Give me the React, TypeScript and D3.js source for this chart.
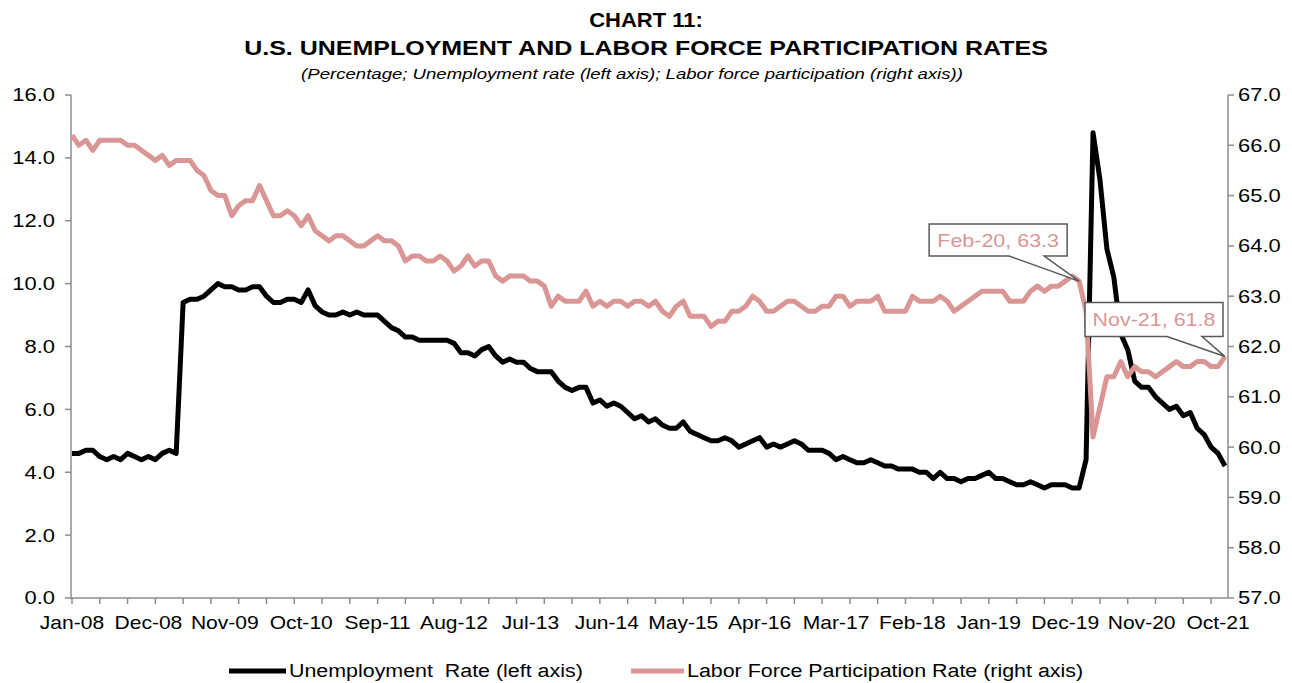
import React, { useEffect } from 'react';
import * as d3 from 'd3';

// Monthly categories Jan-08 .. Nov-21
const startMonth = new Date(2008, 0, 1);
const endMonth = new Date(2021, 10, 1);
const months: Date[] = d3.timeMonth.range(startMonth, d3.timeMonth.offset(endMonth, 1));
const fmtMonth = d3.timeFormat('%b-%y');

// Unemployment rate (left axis), %
const unemploymentRate: number[] = [
  4.6, 4.6, 4.7, 4.7, 4.5, 4.4, 4.5, 4.4, 4.6, 4.5, 4.4, 4.5,
  4.4, 4.6, 4.7, 4.6, 9.4, 9.5, 9.5, 9.6, 9.8, 10.0, 9.9, 9.9,
  9.8, 9.8, 9.9, 9.9, 9.6, 9.4, 9.4, 9.5, 9.5, 9.4, 9.8, 9.3,
  9.1, 9.0, 9.0, 9.1, 9.0, 9.1, 9.0, 9.0, 9.0, 8.8, 8.6, 8.5,
  8.3, 8.3, 8.2, 8.2, 8.2, 8.2, 8.2, 8.1, 7.8, 7.8, 7.7, 7.9,
  8.0, 7.7, 7.5, 7.6, 7.5, 7.5, 7.3, 7.2, 7.2, 7.2, 6.9, 6.7,
  6.6, 6.7, 6.7, 6.2, 6.3, 6.1, 6.2, 6.1, 5.9, 5.7, 5.8, 5.6,
  5.7, 5.5, 5.4, 5.4, 5.6, 5.3, 5.2, 5.1, 5.0, 5.0, 5.1, 5.0,
  4.8, 4.9, 5.0, 5.1, 4.8, 4.9, 4.8, 4.9, 5.0, 4.9, 4.7, 4.7,
  4.7, 4.6, 4.4, 4.5, 4.4, 4.3, 4.3, 4.4, 4.3, 4.2, 4.2, 4.1,
  4.1, 4.1, 4.0, 4.0, 3.8, 4.0, 3.8, 3.8, 3.7, 3.8, 3.8, 3.9,
  4.0, 3.8, 3.8, 3.7, 3.6, 3.6, 3.7, 3.6, 3.5, 3.6, 3.6, 3.6,
  3.5, 3.5, 4.4, 14.8, 13.3, 11.1, 10.2, 8.4, 7.9, 6.9, 6.7, 6.7,
  6.4, 6.2, 6.0, 6.1, 5.8, 5.9, 5.4, 5.2, 4.8, 4.6, 4.2,
];

// Labor force participation rate (right axis), %
const participationRate: number[] = [
  66.2, 66.0, 66.1, 65.9, 66.1, 66.1, 66.1, 66.1, 66.0, 66.0, 65.9, 65.8,
  65.7, 65.8, 65.6, 65.7, 65.7, 65.7, 65.5, 65.4, 65.1, 65.0, 65.0, 64.6,
  64.8, 64.9, 64.9, 65.2, 64.9, 64.6, 64.6, 64.7, 64.6, 64.4, 64.6, 64.3,
  64.2, 64.1, 64.2, 64.2, 64.1, 64.0, 64.0, 64.1, 64.2, 64.1, 64.1, 64.0,
  63.7, 63.8, 63.8, 63.7, 63.7, 63.8, 63.7, 63.5, 63.6, 63.8, 63.6, 63.7,
  63.7, 63.4, 63.3, 63.4, 63.4, 63.4, 63.3, 63.3, 63.2, 62.8, 63.0, 62.9,
  62.9, 62.9, 63.1, 62.8, 62.9, 62.8, 62.9, 62.9, 62.8, 62.9, 62.9, 62.8,
  62.9, 62.7, 62.6, 62.8, 62.9, 62.6, 62.6, 62.6, 62.4, 62.5, 62.5, 62.7,
  62.7, 62.8, 63.0, 62.9, 62.7, 62.7, 62.8, 62.9, 62.9, 62.8, 62.7, 62.7,
  62.8, 62.8, 63.0, 63.0, 62.8, 62.9, 62.9, 62.9, 63.0, 62.7, 62.7, 62.7,
  62.7, 63.0, 62.9, 62.9, 62.9, 63.0, 62.9, 62.7, 62.8, 62.9, 63.0, 63.1,
  63.1, 63.1, 63.1, 62.9, 62.9, 62.9, 63.1, 63.2, 63.1, 63.2, 63.2, 63.3,
  63.4, 63.3, 62.7, 60.2, 60.8, 61.4, 61.4, 61.7, 61.4, 61.6, 61.5, 61.5,
  61.4, 61.5, 61.6, 61.7, 61.6, 61.6, 61.7, 61.7, 61.6, 61.6, 61.8,
];

const xTickLabels = ['Jan-08', 'Dec-08', 'Nov-09', 'Oct-10', 'Sep-11', 'Aug-12', 'Jul-13', 'Jun-14',
  'May-15', 'Apr-16', 'Mar-17', 'Feb-18', 'Jan-19', 'Dec-19', 'Nov-20', 'Oct-21'];
const leftTicks = [0, 2, 4, 6, 8, 10, 12, 14, 16];
const rightTicks = [57, 58, 59, 60, 61, 62, 63, 64, 65, 66, 67];
const callouts = ['Feb-20', 'Nov-21'];

const W = 1292;
const H = 683;
const FONT = '"Liberation Sans", Arial, sans-serif';
const AXIS = '#8c8c8c';
const PINK = '#d99694';

type STProps = {
  x: number; y: number; sx: number; anchor?: 'start' | 'middle' | 'end';
  size: number; bold?: boolean; italic?: boolean; fill?: string; dy?: string; children: React.ReactNode;
};
function ST({ x, y, sx, anchor = 'start', size, bold, italic, fill = '#000', dy, children }: STProps) {
  return (
    <text
      transform={`translate(${x},${y}) scale(${sx},1)`}
      textAnchor={anchor}
      fontSize={size}
      fontWeight={bold ? 'bold' : 'normal'}
      fontStyle={italic ? 'italic' : 'normal'}
      fill={fill}
      dy={dy}
      style={{ whiteSpace: 'pre' }}
    >
      {children}
    </text>
  );
}

export default function App() {
  useEffect(() => {
    document.body.style.margin = '0';
    document.body.style.overflow = 'hidden';
  }, []);

  const plotL = 71;
  const plotR = 1228;
  const plotT = 95;
  const plotB = 598;

  const x = d3.scaleLinear().domain([0, months.length - 1]).range([plotL + 1, 1225]);
  const yL = d3.scaleLinear().domain([0, 16]).range([plotB, plotT]);
  const yR = d3.scaleLinear().domain([57, 67]).range([plotB, plotT]);

  const lineU = d3.line<number>().x((_, i) => x(i)).y((d) => yL(d)).curve(d3.curveLinear);
  const lineP = d3.line<number>().x((_, i) => x(i)).y((d) => yR(d)).curve(d3.curveLinear);

  const labelIdx = xTickLabels.map((l) => months.findIndex((m) => fmtMonth(m) === l));
  const tickIdx = d3.range(0, months.length, 4);

  const calloutShapes = callouts.map((lab) => {
    const i = months.findIndex((m) => fmtMonth(m) === lab);
    const v = participationRate[i];
    return { tx: x(i), ty: yR(v), text: `${lab}, ${v.toFixed(1)}` };
  });
  const boxes = [
    { dxL: -150, dxR: -12, dyT: -57, dyB: -25, p1: -70, p2: -35 },
    { dxL: -140, dxR: -2, dyT: -54, dyB: -20, p1: -58, p2: -23 },
  ];

  return (
    <svg width={W} height={H} style={{ display: 'block', background: '#fff' }} fontFamily={FONT}>
      <rect x={0} y={0} width={W} height={H} fill="#fff" />
      {/* Titles */}
      <ST x={646} y={27} sx={1.1} anchor="middle" size={20} bold>CHART 11:</ST>
      <ST x={646} y={55} sx={1.25} anchor="middle" size={20} bold>
        U.S. UNEMPLOYMENT AND LABOR FORCE PARTICIPATION RATES
      </ST>
      <ST x={632} y={79} sx={1.24} anchor="middle" size={15} italic>
        (Percentage; Unemployment rate (left axis); Labor force participation (right axis))
      </ST>

      {/* Axes */}
      <line x1={plotL} x2={plotL} y1={plotT} y2={plotB} stroke={AXIS} strokeWidth={1.5} />
      <line x1={plotR} x2={plotR} y1={plotT} y2={plotB} stroke={AXIS} strokeWidth={1.5} />
      <line x1={plotL} x2={plotR} y1={plotB} y2={plotB} stroke={AXIS} strokeWidth={1.5} />

      {leftTicks.map((t) => (
        <g key={'l' + t}>
          <line x1={plotL - 6} x2={plotL} y1={yL(t)} y2={yL(t)} stroke={AXIS} strokeWidth={1.5} />
          <ST x={55} y={yL(t)} dy="0.36em" sx={1.22} anchor="end" size={18}>{t.toFixed(1)}</ST>
        </g>
      ))}
      {rightTicks.map((t) => (
        <g key={'r' + t}>
          <line x1={plotR} x2={plotR + 6} y1={yR(t)} y2={yR(t)} stroke={AXIS} strokeWidth={1.5} />
          <ST x={1238} y={yR(t)} dy="0.36em" sx={1.22} anchor="start" size={18}>{t.toFixed(1)}</ST>
        </g>
      ))}
      {tickIdx.map((i) => (
        <line key={'t' + i} x1={x(i)} x2={x(i)} y1={plotB} y2={plotB + 6} stroke={AXIS} strokeWidth={1.5} />
      ))}
      {labelIdx.map((i, k) => (
        <ST key={'xl' + k} x={x(i)} y={629} sx={1.17} anchor="middle" size={18}>{xTickLabels[k]}</ST>
      ))}

      {/* Series */}
      <path d={lineU(unemploymentRate) || ''} fill="none" stroke="#000" strokeWidth={5} strokeLinejoin="round" />
      <path d={lineP(participationRate) || ''} fill="none" stroke={PINK} strokeWidth={5} strokeLinejoin="round" />

      {/* Callouts */}
      {calloutShapes.map((c, k) => {
        const b = boxes[k];
        const L = c.tx + b.dxL;
        const R = c.tx + b.dxR;
        const T = c.ty + b.dyT;
        const B = c.ty + b.dyB;
        const d = `M${L},${T}H${R}V${B}H${c.tx + b.p2}L${c.tx},${c.ty}L${c.tx + b.p1},${B}H${L}Z`;
        return (
          <g key={'c' + k}>
            <path d={d} fill="#fff" stroke="#595959" strokeWidth={1.5} />
            <ST x={(L + R) / 2} y={(T + B) / 2} dy="0.36em" sx={1.13} anchor="middle" size={19} fill={PINK}>{c.text}</ST>
          </g>
        );
      })}

      {/* Legend */}
      <line x1={229} x2={286} y1={671} y2={671} stroke="#000" strokeWidth={5} />
      <ST x={289} y={671} dy="0.36em" sx={1.19} size={18}>Unemployment  Rate (left axis)</ST>
      <line x1={631} x2={684} y1={671} y2={671} stroke={PINK} strokeWidth={5} />
      <ST x={687} y={671} dy="0.36em" sx={1.19} size={18}>Labor Force Participation Rate (right axis)</ST>
    </svg>
  );
}
